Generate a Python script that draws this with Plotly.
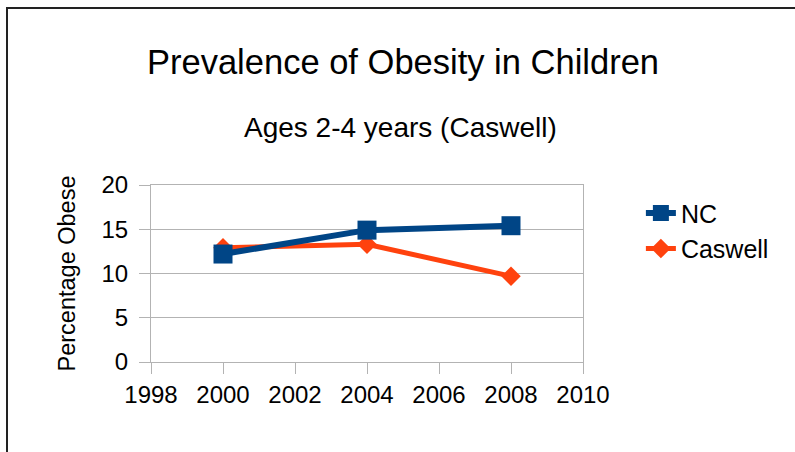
import plotly.graph_objects as go

years = [2000, 2004, 2008]
nc_values = [12.2, 14.9, 15.4]
caswell_values = [12.9, 13.3, 9.7]
x_ticks = [1998, 2000, 2002, 2004, 2006, 2008, 2010]
y_ticks = [0, 5, 10, 15, 20]

FONT = "Liberation Sans, Arial, sans-serif"
GRID = "#b3b3b3"

fig = go.Figure()
fig.add_trace(go.Scatter(
    x=years, y=caswell_values, name="Caswell", mode="lines+markers",
    line=dict(color="#ff420e", width=5),
    marker=dict(symbol="diamond", size=15, color="#ff420e"),
))
fig.add_trace(go.Scatter(
    x=years, y=nc_values, name="NC", mode="lines+markers",
    line=dict(color="#004586", width=6),
    marker=dict(symbol="square", size=19, color="#004586"),
))

fig.update_layout(
    width=795, height=452,
    margin=dict(l=151, r=212, t=185, b=90),
    paper_bgcolor="white", plot_bgcolor="white",
    font=dict(family=FONT, color="black"),
    showlegend=True,
    legend=dict(
        x=1.134, y=0.97, xanchor="left", yanchor="top",
        font=dict(size=25, family=FONT), traceorder="reversed",
        itemwidth=30, tracegroupgap=0, bgcolor="rgba(0,0,0,0)",
    ),
    annotations=[
        dict(text="Prevalence of Obesity in Children", xref="paper", yref="paper",
             x=0.583, y=(362.3 - 61.5) / 177.6, xanchor="center", yanchor="middle",
             showarrow=False, font=dict(size=34.5, family=FONT)),
        dict(text="Ages 2-4 years (Caswell)", xref="paper", yref="paper",
             x=0.577, y=(362.3 - 127) / 177.6, xanchor="center", yanchor="middle",
             showarrow=False, font=dict(size=28, family=FONT)),
    ],
    shapes=[
        dict(type="rect", xref="paper", yref="paper",
             x0=(7 - 151) / 432, x1=2.0, y0=-1.0, y1=(362.3 - 7) / 177.6,
             line=dict(color="#222222", width=2), layer="above"),
    ],
)

fig.update_xaxes(
    range=[1998, 2010], tickvals=x_ticks, ticktext=[str(v) for v in x_ticks],
    showgrid=False, zeroline=False,
    showline=True, linecolor=GRID, linewidth=1, mirror=True,
    ticks="outside", ticklen=11, tickcolor=GRID, tickwidth=1,
    tickfont=dict(size=24, family=FONT, color="black"),
)
fig.update_yaxes(
    range=[0, 20], tickvals=y_ticks,
    showgrid=True, gridcolor=GRID, gridwidth=1, zeroline=False,
    showline=True, linecolor=GRID, linewidth=1, mirror=True,
    ticks="outside", ticklen=11, tickcolor=GRID, tickwidth=1,
    ticklabelstandoff=6,
    tickfont=dict(size=24, family=FONT, color="black"),
    title=dict(text="Percentage Obese", font=dict(size=23.5, family=FONT, color="black"), standoff=19),
)

fig.write_html("out.html", post_script="document.body.style.margin='0';",
               config={"displayModeBar": False})
